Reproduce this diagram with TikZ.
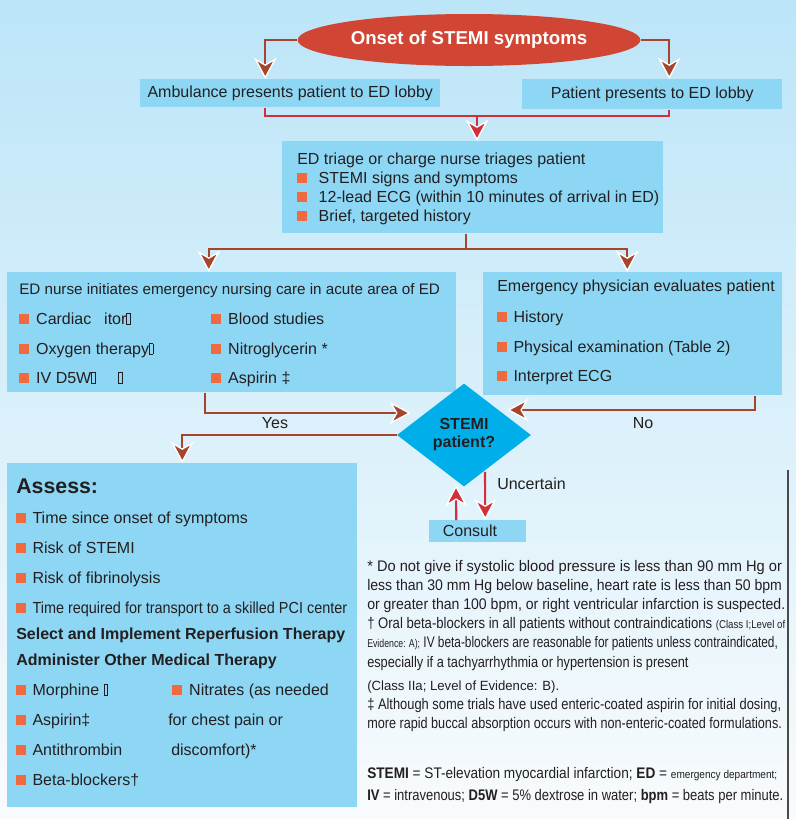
\documentclass[tikz,border=0pt]{standalone}
\usepackage{fontspec}
\setmainfont{Liberation Sans}
\usepackage{graphicx}
\usetikzlibrary{shapes.geometric,arrows.meta,calc}

\definecolor{bgtop}{HTML}{BCE5F8}
\definecolor{bgbot}{HTML}{F8FBFD}
\definecolor{boxc}{HTML}{8DD7F5}
\definecolor{diac}{HTML}{00AEEA}
\definecolor{ellc}{HTML}{D04533}
\definecolor{bulc}{HTML}{EF6B3F}
\definecolor{brownc}{HTML}{A6452B}
\definecolor{redc}{HTML}{CF3039}
\definecolor{txtc}{HTML}{231F20}
\definecolor{edgec}{HTML}{4A4A4A}

% orange square bullet followed by a gap
\newcommand\bul[1]{\textcolor{bulc}{\rule{7.5pt}{7.5pt}}\hspace*{#1}}
% empty glyph box
\newcommand\tofu{{\setlength\fboxsep{0pt}\setlength\fboxrule{0.6pt}\fbox{\rule{0pt}{7.5pt}\hspace{2pt}}}}
% set a line to a given width, keeping its height
\newcommand\fitw[2]{\resizebox{#1}{\height}{#2}}
\newcommand\fnsmall{\fontsize{8.5}{10}\selectfont}

\tikzset{
  box/.style={rectangle, fill=boxc, inner sep=0pt, anchor=north west},
  txt/.style={inner sep=0pt, anchor=base west, text=txtc, font=\fontsize{12}{14}\selectfont},
  lbl/.style={inner sep=0pt, text=txtc, font=\fontsize{12}{14}\selectfont},
  fn/.style={inner sep=0pt, anchor=base west, text=txtc, font=\fontsize{11.5}{14}\selectfont},
  conn/.style={draw=brownc, line width=1.6pt},
  redline/.style={draw=redc, line width=1.6pt},
  tipb/.style={-{Stealth[length=16pt,width=17pt,inset=5pt,fill=brownc,color=white,line width=1pt]}},
  tipr/.style={-{Stealth[length=16pt,width=17pt,inset=5pt,fill=redc,color=white,line width=1pt]}},
}

\begin{document}
\begin{tikzpicture}[x=0.75pt,y=-0.75pt]
\useasboundingbox (0,0) rectangle (796,819);
\shade[top color=bgtop, bottom color=bgbot] (0,0) rectangle (796,819);
\draw[edgec, line width=1pt] (788,470) -- (788,819);

% ---- start
\node[ellipse, fill=ellc, minimum width=257pt, minimum height=39pt, inner sep=0pt,
      text=white, font=\fontsize{14}{16}\selectfont\bfseries] (onset) at (469,40) {Onset of STEMI symptoms};

\node[box, minimum width=225pt, minimum height=21pt, text=txtc, font=\fontsize{12}{14}\selectfont] (amb) at (140,79) {Ambulance presents patient to ED lobby};
\node[box, minimum width=195pt, minimum height=22.5pt, text=txtc, font=\fontsize{12}{14}\selectfont] (pat) at (522,79) {Patient presents to ED lobby};

% ---- triage
\node[box, minimum width=285.75pt, minimum height=69pt] (triage) at (282,141) {};
\node[txt] (tr0) at (297,164) {ED triage or charge nurse triages patient};
\node[txt] (tr1) at (297,183) {\bul{8.6pt}STEMI signs and symptoms};
\node[txt] (tr2) at (297,202) {\bul{8.6pt}12-lead ECG (within 10 minutes of arrival in ED)};
\node[txt] (tr3) at (297,221) {\bul{8.6pt}Brief, targeted history};

% ---- nursing care
\node[box, minimum width=336.75pt, minimum height=90pt] (nurse) at (7,272) {};
\node[txt, font=\fontsize{11.4}{14}\selectfont] (nu0) at (19,294) {ED nurse initiates emergency nursing care in acute area of ED};
\node[txt] (nu1) at (19,324) {\bul{5.2pt}Cardiac\hspace{9.7pt}itor\tofu};
\node[txt] (nu2) at (19,354) {\bul{5.2pt}Oxygen therapy\tofu};
\node[txt] (nu3) at (19,383) {\bul{5.2pt}IV D5W\tofu\hspace{17pt}\tofu};
\node[txt] (nu4) at (211,324) {\bul{5.2pt}Blood studies};
\node[txt] (nu5) at (211,354) {\bul{5.2pt}Nitroglycerin *};
\node[txt] (nu6) at (211,383) {\bul{5.2pt}Aspirin ‡};

% ---- physician
\node[box, minimum width=224.25pt, minimum height=92.25pt] (phys) at (483,272) {};
\node[txt] (ph0) at (497,291) {Emergency physician evaluates patient};
\node[txt] (ph1) at (497,322) {\bul{4.7pt}History};
\node[txt] (ph2) at (497,352) {\bul{4.7pt}Physical examination (Table 2)};
\node[txt] (ph3) at (497,381) {\bul{4.7pt}Interpret ECG};

% ---- decision
\node[diamond, fill=diac, minimum width=100.5pt, minimum height=77.25pt, inner sep=0pt,
      align=center, text=txtc, font=\fontsize{12}{13.5}\selectfont\bfseries] (dia) at (464,435) {STEMI\\patient?};

\node[box, minimum width=72.75pt, minimum height=16.5pt] (consult) at (429,520) {};
\node[lbl] (consultt) at (470,531) {Consult};

% ---- assess
\node[box, minimum width=262.5pt, minimum height=258pt] (assess) at (7,463) {};
\node[txt, font=\fontsize{16}{18}\selectfont\bfseries] (as0) at (16,493) {Assess:};
\node[txt] (as1) at (16,523) {\bul{4.7pt}Time since onset of symptoms};
\node[txt] (as2) at (16,553) {\bul{4.7pt}Risk of STEMI};
\node[txt] (as3) at (16,583) {\bul{4.7pt}Risk of fibrinolysis};
\node[txt] (as4) at (16,613) {\bul{4.7pt}\fitw{236pt}{Time required for transport to a skilled PCI center}};
\node[txt, font=\fontsize{12}{14}\selectfont\bfseries] (as5) at (16,639) {Select and Implement Reperfusion Therapy};
\node[txt, font=\fontsize{12}{14}\selectfont\bfseries] (as6) at (16,665) {Administer Other Medical Therapy};
\node[txt] (as7) at (16,695) {\bul{4.7pt}Morphine \tofu};
\node[txt] (as8) at (16,725) {\bul{4.7pt}Aspirin‡};
\node[txt] (as9) at (16,755) {\bul{4.7pt}Antithrombin};
\node[txt] (as10) at (16,785) {\bul{4.7pt}Beta-blockers†};
\node[txt] (as11) at (172,695) {\bul{5.2pt}Nitrates (as needed};
\node[txt] (as12) at (168,725) {for chest pain or};
\node[txt] (as13) at (171,755) {discomfort)*};

% ---- connectors
\draw[conn,tipb] (onset.west) -| ($(amb.north)+(-25,0)$);
\draw[conn,tipb] (onset.east) -| ($(pat.north)+(17,0)$);

\coordinate (merge) at (477,116);
\draw[redline] ($(amb.south)+(-25,0)$) |- (merge) -| ($(pat.south)+(17,0)$);
\draw[redline,tipr] (merge) -- (merge |- triage.north);

\coordinate (split) at (466,249);
\draw[conn] (triage.south -| split) -- (split);
\draw[conn,tipb] (split) -| ($(nurse.north)+(-23,0)$);
\draw[conn,tipb] (split) -| ($(phys.north)+(-5.5,0)$);

\draw[conn,tipb] ($(nurse.south)+(-26.5,0)$) |- ($(dia.west)+(14,-22)$);
\draw[conn,tipb] ($(phys.south)+(122.5,0)$) |- ($(dia.east)+(-24,-25)$);
\draw[conn,tipb] (dia.west) -| (assess.north);

\draw[redline,tipr] ($(dia.south)+(21,-15)$) -- ($(consult.north)+(7.5,0)$);
\draw[redline,tipr] ($(consult.north)+(-21.5,0)$) -- ($(dia.south)+(-8,-1.5)$);

\node[lbl] (yes) at (275,423) {Yes};
\node[lbl] (no) at (643,423) {No};
\node[lbl, anchor=west] (unc) at (497,484) {Uncertain};

% ---- notes
\node[fn] (fn1) at (367,571) {\fitw{311pt}{* Do not give if systolic blood pressure is less than 90 mm Hg or}};
\node[fn] (fn2) at (367,590) {\fitw{311pt}{less than 30 mm Hg below baseline, heart rate is less than 50 bpm}};
\node[fn] (fn3) at (367,609) {\fitw{313.5pt}{or greater than 100 bpm, or right ventricular infarction is suspected.}};
\node[fn] (fn4) at (367,628) {\fitw{313.5pt}{† Oral beta-blockers in all patients without contraindications {\fnsmall (Class I;Level of}}};
\node[fn] (fn5) at (367,647) {\fitw{308pt}{{\fnsmall Evidence: A);} IV beta-blockers are reasonable for patients unless contraindicated,}};
\node[fn] (fn6) at (367,667) {\fitw{241pt}{especially if a tachyarrhythmia or hypertension is present}};
\node[fn, font=\fontsize{10}{12}\selectfont] (fn7) at (367,690) {\fitw{144pt}{(Class IIa; Level of Evidence: B).}};
\node[fn] (fn8) at (367,709) {\fitw{310.5pt}{‡ Although some trials have used enteric-coated aspirin for initial dosing,}};
\node[fn] (fn9) at (367,728) {\fitw{311pt}{more rapid buccal absorption occurs with non-enteric-coated formulations.}};

\node[fn] (ab1) at (367,778) {\fitw{307.5pt}{\textbf{STEMI} = ST-elevation myocardial infarction; \textbf{ED} = {\fnsmall emergency department;}}};
\node[fn] (ab2) at (367,800) {\fitw{312pt}{\textbf{IV} = intravenous; \textbf{D5W} = 5\% dextrose in water; \textbf{bpm} = beats per minute.}};
\end{tikzpicture}
\end{document}
